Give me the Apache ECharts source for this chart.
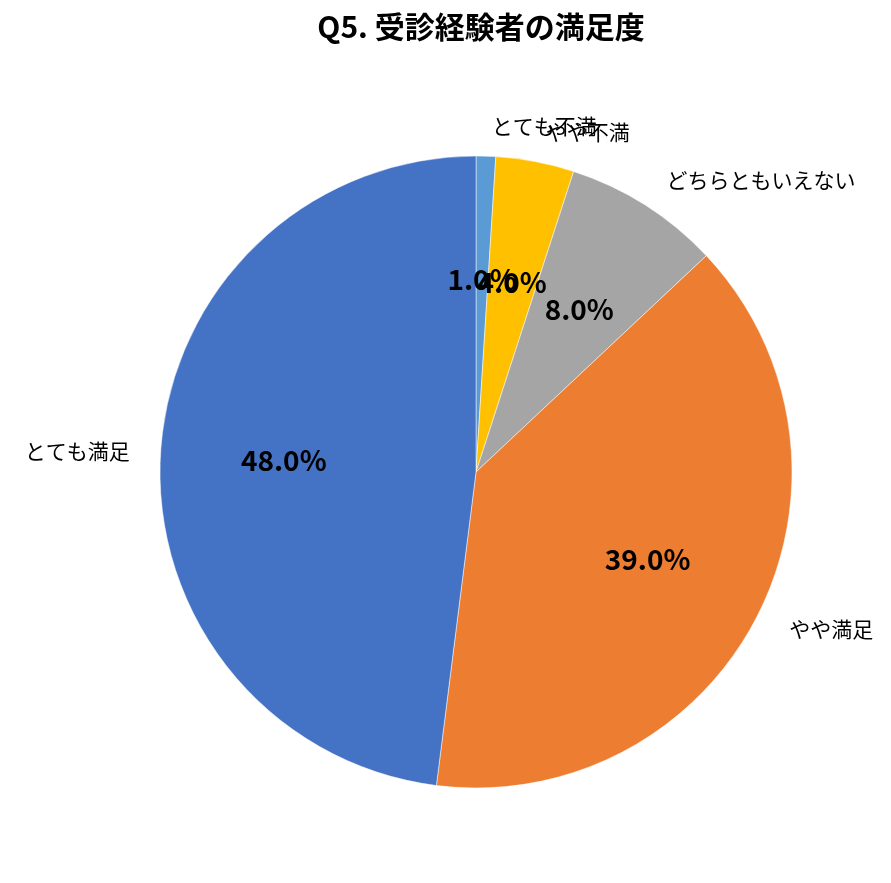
<!DOCTYPE html>
<html>
<head>
<meta charset="utf-8">
<script src="https://cdn.jsdelivr.net/npm/echarts@6/dist/echarts.min.js"></script>
<style>
  html, body { margin: 0; padding: 0; background: #fff; }
  #chart { width: 891px; height: 883px; }
</style>
</head>
<body>
<div id="chart"></div>
<script>
  // 満足度の回答（上から時計回り）
  var categories = ['とても不満', 'やや不満', 'どちらともいえない', 'やや満足', 'とても満足'];
  var values = [1, 4, 8, 39, 48];
  var colors = ['#5B9BD5', '#FFC000', '#A5A5A5', '#ED7D31', '#4472C4'];

  var font = '"Noto Sans CJK JP", "Noto Sans", sans-serif';
  var R = 316;

  var pieData = categories.map(function (c, i) {
    var item = { name: c, value: values[i], itemStyle: { color: colors[i] } };
    // 左側のラベルだけ円に近づける
    if (c === 'とても満足') item.labelLine = { length: 14, length2: 12 };
    return item;
  });

  var app = echarts.init(document.getElementById('chart'));
  var option = {
    animation: false,
    title: {
      text: 'Q5. 受診経験者の満足度',
      left: 476,
      textAlign: 'center',
      top: 7,
      textStyle: { fontFamily: font, fontSize: 30, fontWeight: 'bold', color: '#000' }
    },
    series: [
      {
        // 本体と外側の項目名
        type: 'pie',
        center: [476, 472],
        radius: R,
        startAngle: 90,
        clockwise: true,
        avoidLabelOverlap: false,
        minShowLabelAngle: 0,
        labelLayout: { hideOverlap: false },
        itemStyle: { borderColor: '#fff', borderWidth: 0.5 },
        label: {
          show: true,
          position: 'outside',
          formatter: '{b}',
          fontFamily: font,
          fontSize: 21,
          color: '#000'
        },
        labelLine: { show: false, length: 30, length2: 0 },
        data: pieData
      },
      {
        // 内側の割合ラベル用（透明、半径0.6の位置に表示）
        type: 'pie',
        center: [476, 472],
        radius: R * 1.2,
        startAngle: 90,
        clockwise: true,
        silent: true,
        avoidLabelOverlap: false,
        minShowLabelAngle: 0,
        labelLayout: { hideOverlap: false },
        itemStyle: { color: 'rgba(0,0,0,0)' },
        label: {
          show: true,
          position: 'inside',
          formatter: function (p) { return p.percent.toFixed(1) + '%'; },
          fontFamily: font,
          fontSize: 28,
          fontWeight: 'bold',
          color: '#000'
        },
        labelLine: { show: false },
        data: categories.map(function (c, i) { return { name: c, value: values[i] }; })
      }
    ]
  };
  app.setOption(option);
</script>
</body>
</html>
